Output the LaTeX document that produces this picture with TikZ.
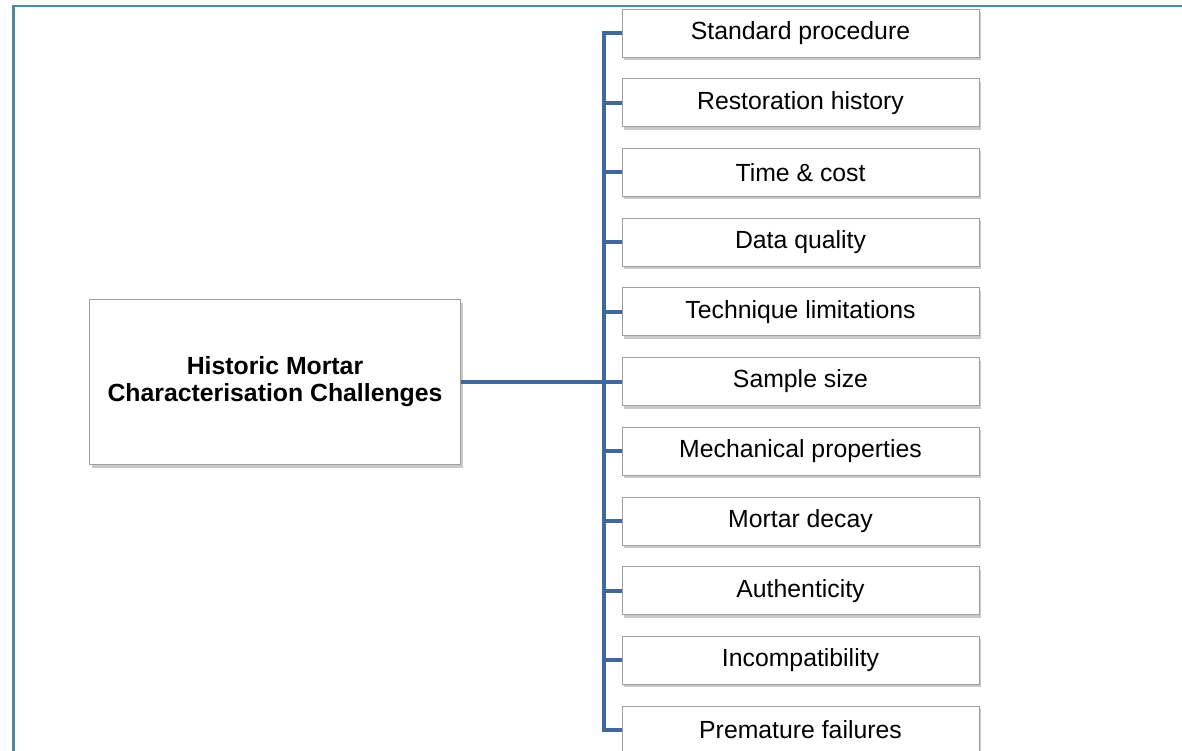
\documentclass[tikz,border=0pt]{standalone}
\usepackage{fontspec}
\setmainfont{Liberation Sans}
\usetikzlibrary{shadows}
\definecolor{framec}{HTML}{4A8C9E}
\definecolor{connc}{HTML}{41689C}
\tikzset{
  leafbox/.style={rectangle, draw=gray!75, line width=0.8pt, fill=white,
    minimum width=357pt, minimum height=48pt, inner sep=0pt,
    font=\fontsize{24.8}{27}\selectfont,
    drop shadow={shadow xshift=2pt, shadow yshift=-3pt, fill=gray!70, opacity=0.6}},
  rootbox/.style={rectangle, draw=gray!75, line width=0.8pt, fill=white,
    minimum width=371pt, minimum height=165pt, inner sep=0pt, align=center,
    font=\fontsize{24.8}{27}\selectfont\bfseries,
    drop shadow={shadow xshift=2pt, shadow yshift=-3pt, fill=gray!70, opacity=0.6}},
  conn/.style={draw=connc, line width=4pt},
  framestyle/.style={draw=framec, line width=2.2pt}
}
\begin{document}
\begin{tikzpicture}[x=1pt,y=-1pt]
\useasboundingbox (0,0) rectangle (1182,750);
\clip (0,0) rectangle (1182,750);
\fill[white] (0,0) rectangle (1182,750);
\draw[framestyle] (13.5,760) -- (13.5,6) -- (1190,6);
\node[rootbox] (root) at (275,382) {Historic Mortar\\Characterisation Challenges};
\foreach \i/\t in {0/Standard procedure,1/Restoration history,2/Time \& cost,3/Data quality,4/Technique limitations,5/Sample size,6/Mechanical properties,7/Mortar decay,8/Authenticity,9/Incompatibility,10/Premature failures}{
  \node[leafbox] (l\i) at (800.5,{33+69.7*\i}) {\t};
}
\coordinate (spine) at (604,382);
\draw[conn] (l0.west) -- ++(-18,0) |- (l10.west);
\foreach \i in {1,...,9}{
  \draw[conn] (l\i.west) -- ++(-18,0);
}
\draw[conn] (root.east) -- (spine);
\end{tikzpicture}
\end{document}
